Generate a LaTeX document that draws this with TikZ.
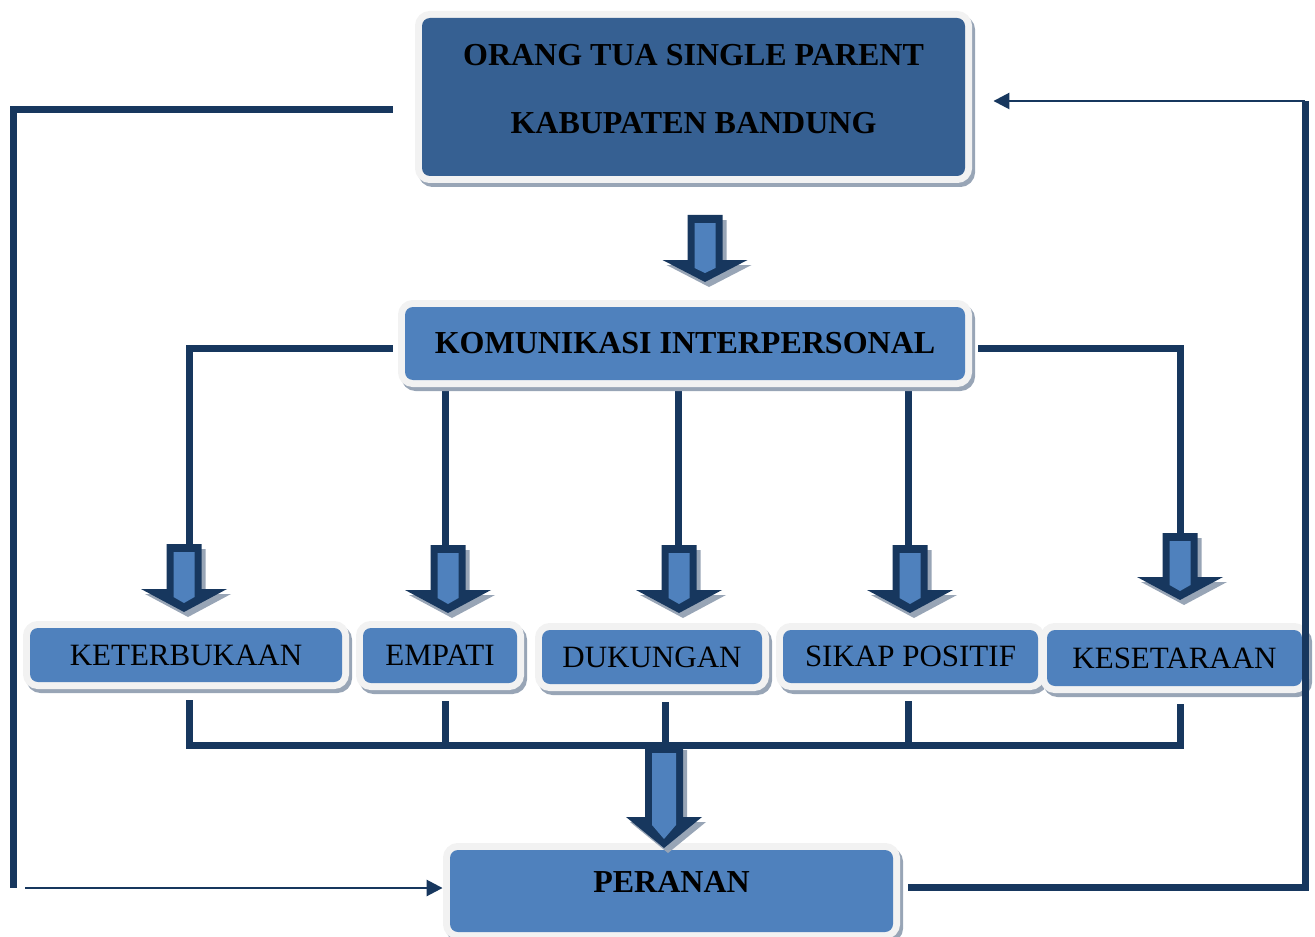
\documentclass[tikz,border=0pt]{standalone}
\usepackage{fontspec}
\setmainfont{Liberation Serif}
\usepackage{xcolor}
\usetikzlibrary{positioning,arrows.meta,backgrounds,calc}

\definecolor{navy}{HTML}{17375E}
\definecolor{topblue}{HTML}{366092}
\definecolor{midblue}{HTML}{4F81BD}
\definecolor{framegray}{HTML}{F2F2F2}
\definecolor{shadowgray}{HTML}{98A5B6}

\tikzset{
  box/.style={rounded corners=4pt, fill=midblue, inner sep=0pt, align=center,
    font=\fontsize{15.5}{18}\selectfont,
    preaction={draw=shadowgray, line width=7pt, transform canvas={shift={(1.5pt,-2pt)}}},
    preaction={draw=framegray, line width=7pt}},
  boldbox/.style={box, font=\bfseries\fontsize{16}{34}\selectfont},
  link/.style={draw=navy, line width=3.5pt},
  feedback/.style={draw=navy, line width=1.3pt, -{Triangle[length=8pt,width=8pt]}},
  % block arrow: shaft length, head length, shaft half width, head half width
  pics/blockarr/.style n args={4}{code={
    \fill[shadowgray, shift={(4,5)}] (-#3,0) -- (#3,0) -- (#3,#1) -- (#4,#1) -- (0,#1+#2) -- (-#4,#1) -- (-#3,#1) -- cycle;
    \fill[navy] (-#3,0) -- (#3,0) -- (#3,#1) -- (#4,#1) -- (0,#1+#2) -- (-#4,#1) -- (-#3,#1) -- cycle;
    \fill[midblue] (-#3+7,8) -- (#3-7,8) -- (#3-7,#1+8) -- (0,#1+#2-9) -- (-#3+7,#1+8) -- cycle;
  }}
}

\begin{document}
\begin{tikzpicture}[x=0.5pt,y=-0.5pt]
\useasboundingbox (0,0) rectangle (1315,936);

% boxes
\node[boldbox, fill=topblue, minimum width=271.5pt, minimum height=79pt, text depth=8.4pt] (orang) at (693.5,97) {ORANG TUA SINGLE PARENT\\KABUPATEN BANDUNG};
\node[boldbox, minimum width=280pt, minimum height=36.5pt] (kom) at (685,343.5) {KOMUNIKASI INTERPERSONAL};
\node[box, minimum width=156pt, minimum height=27pt] (ket) at (186,655) {KETERBUKAAN};
\node[box, minimum width=77pt, minimum height=27.5pt] (emp) at (440,655.5) {EMPATI};
\node[box, minimum width=110pt, minimum height=27pt] (duk) at (652,657) {DUKUNGAN};
\node[box, minimum width=127.5pt, minimum height=26.5pt] (sik) at (910.5,656.5) {SIKAP POSITIF};
\node[box, minimum width=127.5pt, minimum height=28pt] (kes) at (1174.5,658) {KESETARAAN};
\node[boldbox, minimum width=221.5pt, minimum height=41pt, text height=11pt, text depth=9.4pt] (per) at (671.5,891) {PERANAN};

% connectors
\begin{scope}[on background layer]
  \coordinate (k1) at (189,548);
  \coordinate (k2) at (445,548);
  \coordinate (k3) at (678,548);
  \coordinate (k4) at (908,548);
  \coordinate (k5) at (1180,536);
  \draw[link] ([xshift=-6pt,yshift=-2.25pt]kom.west) -| (k1);
  \draw[link] (kom.south -| k2) -- (k2);
  \draw[link] (kom.south -| k3) -- (k3);
  \draw[link] (kom.south -| k4) -- (k4);
  \draw[link] ([xshift=6.5pt,yshift=-2.25pt]kom.east) -| (k5);

  \coordinate (b1) at (189,745);
  \coordinate (b2) at (445,745);
  \coordinate (b3) at (665,745);
  \coordinate (b4) at (908,745);
  \coordinate (b5) at (1180,745);
  \draw[link] ([yshift=-9pt]ket.south -| b1) -- (b1) -- (b5) -- ([yshift=-9pt]kes.south -| b5);
  \draw[link] ([yshift=-9pt]emp.south -| b2) -- (b2);
  \draw[link] ([yshift=-9pt]duk.south -| b3) -- (b3);
  \draw[link] ([yshift=-9pt]sik.south -| b4) -- (b4);
\end{scope}

% feedback loops
\coordinate (lb) at (13,888);
\coordinate (lb2) at (25,888);
\coordinate (rt) at (1305,101);
\draw[link] ([xshift=-14.5pt,yshift=-6.5pt]orang.west) -| (lb);
\draw[feedback, shorten >=3.5pt] (lb2) -- (per.west |- lb2);
\draw[link] ([xshift=7.5pt,yshift=2pt]per.east) -| (rt);
\draw[feedback, shorten >=14pt] (rt) -- (orang.east |- rt);

% block arrows
\pic at (705,215) {blockarr={45}{22}{17.5}{42.5}};
\pic at (184,544) {blockarr={45}{23}{17.5}{43}};
\pic at (448,545) {blockarr={45}{23}{17.5}{43}};
\pic at (679,545) {blockarr={45}{23}{17.5}{43}};
\pic at (910,545) {blockarr={45}{23}{17.5}{43}};
\pic at (1180,533) {blockarr={44}{23}{17.5}{43}};
\pic at (664,745) {blockarr={72}{31}{19}{38}};
\end{tikzpicture}
\end{document}
